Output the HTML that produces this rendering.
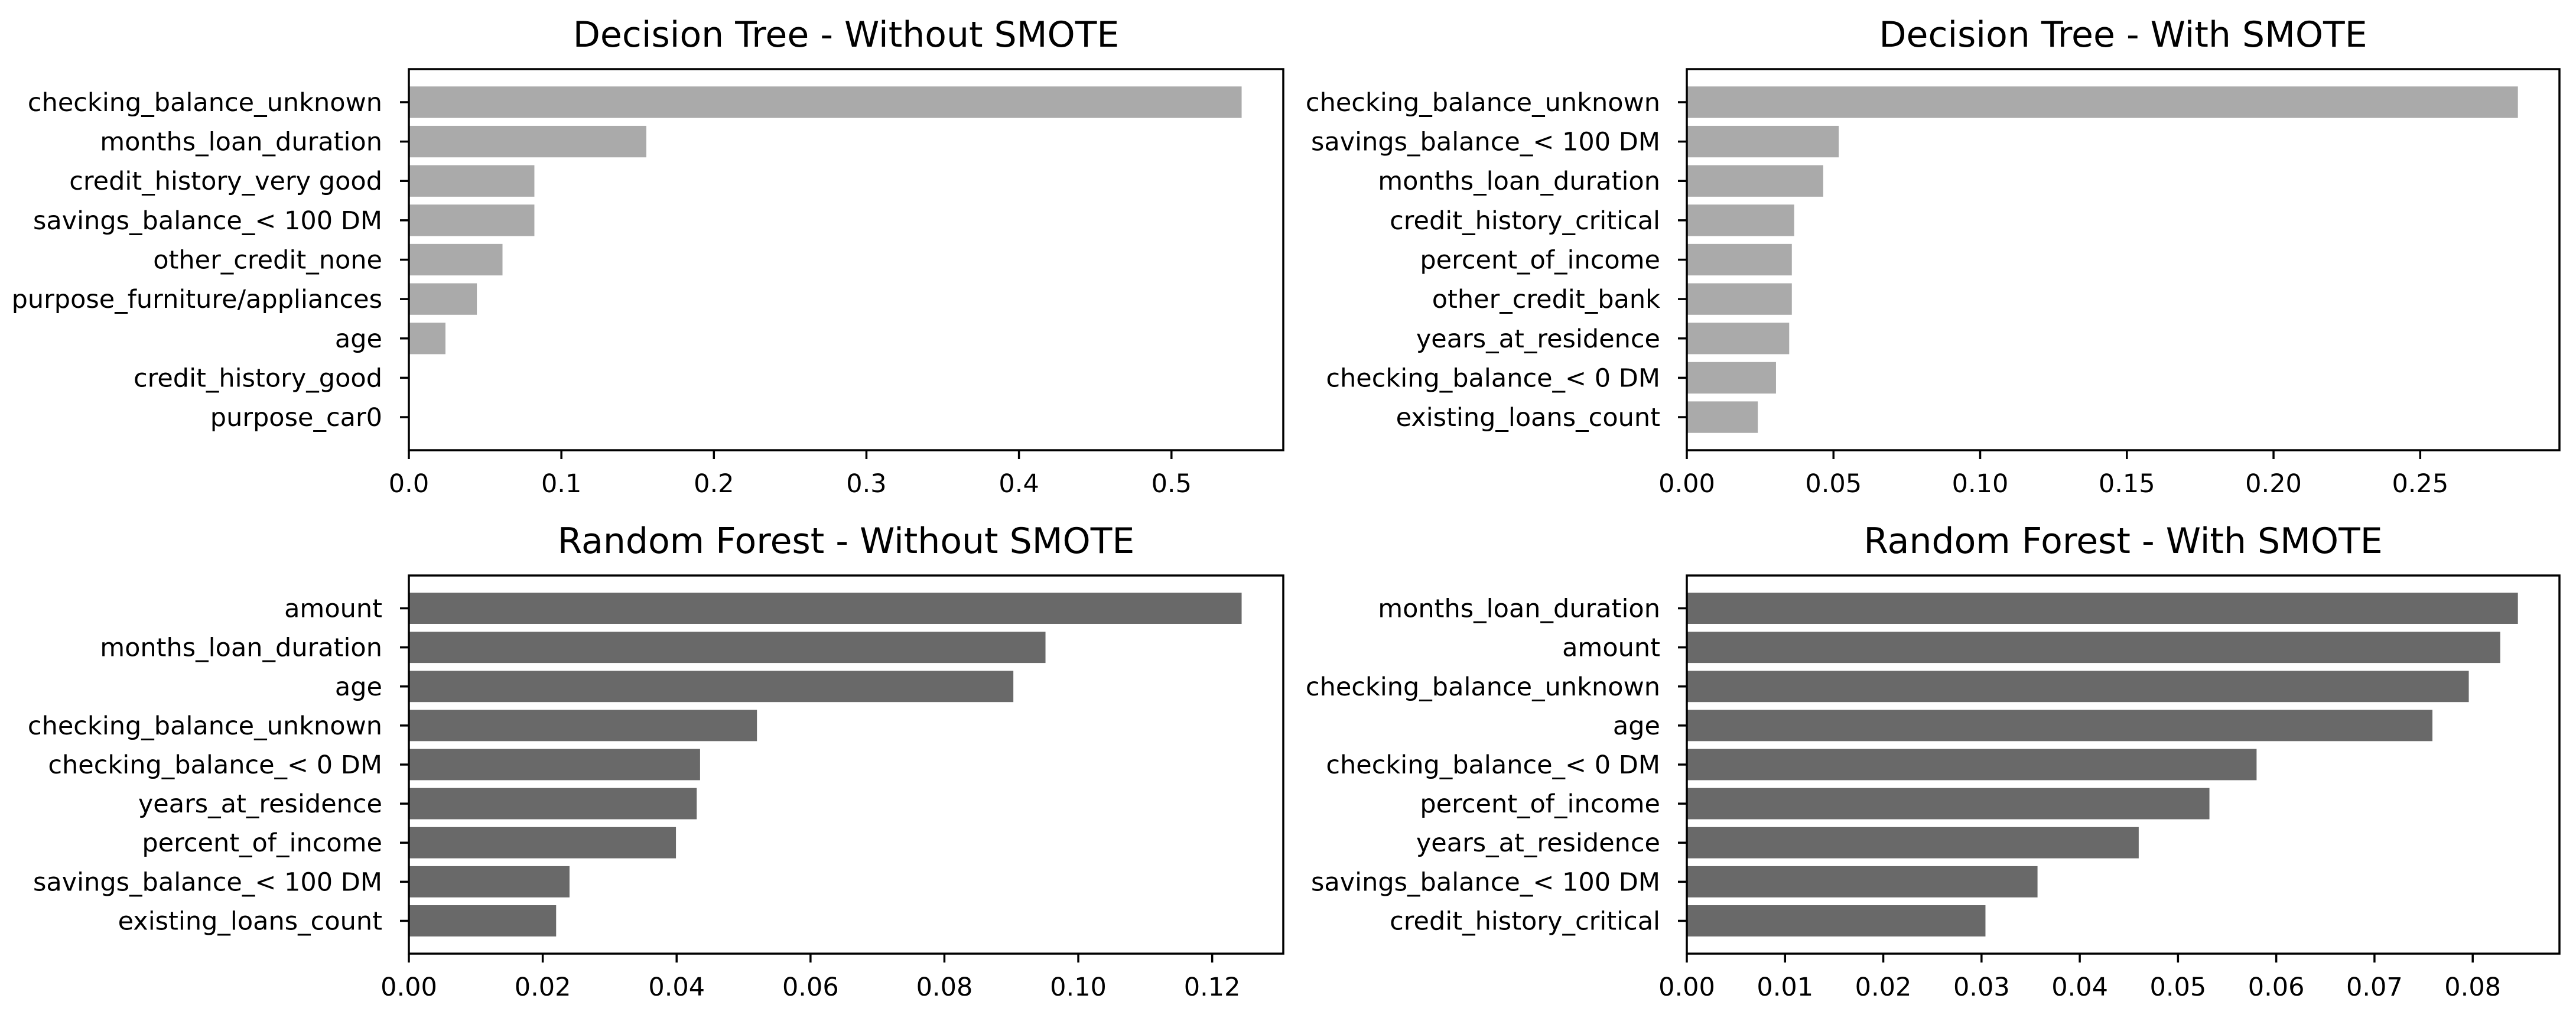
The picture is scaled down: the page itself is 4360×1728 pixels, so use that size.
<!DOCTYPE html>
<html><head><meta charset="utf-8"><style>
html,body{margin:0;padding:0;background:#fff}
svg{display:block}
text{font-family:"DejaVu Sans","Liberation Sans",sans-serif;fill:#000}
</style></head><body>
<svg id="fig" width="4360" height="1728" viewBox="0 0 4360 1728" xmlns="http://www.w3.org/2000/svg"></svg>
<script>
const dtNoLabels = ["checking_balance_unknown","months_loan_duration","credit_history_very good","savings_balance_< 100 DM","other_credit_none","purpose_furniture/appliances","age","credit_history_good","purpose_car0"];
const dtNoValues = [0.546,0.1557,0.0823,0.0823,0.0614,0.0446,0.024,0,0];
const dtNoTicks = [0,0.1,0.2,0.3,0.4,0.5];
const dtNoTickLabels = ["0.0","0.1","0.2","0.3","0.4","0.5"];

const dtSmLabels = ["checking_balance_unknown","savings_balance_< 100 DM","months_loan_duration","credit_history_critical","percent_of_income","other_credit_bank","years_at_residence","checking_balance_< 0 DM","existing_loans_count"];
const dtSmValues = [0.2833,0.0518,0.0465,0.0366,0.0358,0.0358,0.0349,0.0304,0.0242];
const dtSmTicks = [0,0.05,0.10,0.15,0.20,0.25];
const dtSmTickLabels = ["0.00","0.05","0.10","0.15","0.20","0.25"];

const rfNoLabels = ["amount","months_loan_duration","age","checking_balance_unknown","checking_balance_< 0 DM","years_at_residence","percent_of_income","savings_balance_< 100 DM","existing_loans_count"];
const rfNoValues = [0.1244,0.0951,0.0903,0.052,0.0435,0.043,0.0399,0.024,0.022];
const rfNoTicks = [0,0.02,0.04,0.06,0.08,0.10,0.12];
const rfNoTickLabels = ["0.00","0.02","0.04","0.06","0.08","0.10","0.12"];

const rfSmLabels = ["months_loan_duration","amount","checking_balance_unknown","age","checking_balance_< 0 DM","percent_of_income","years_at_residence","savings_balance_< 100 DM","credit_history_critical"];
const rfSmValues = [0.0846,0.0828,0.0796,0.0759,0.058,0.0532,0.046,0.0357,0.0304];
const rfSmTicks = [0,0.01,0.02,0.03,0.04,0.05,0.06,0.07,0.08];
const rfSmTickLabels = ["0.00","0.01","0.02","0.03","0.04","0.05","0.06","0.07","0.08"];

const NS="http://www.w3.org/2000/svg";
const svg=document.getElementById('fig');
function mk(tag,attrs,parent){const e=document.createElementNS(NS,tag);for(const k in attrs)e.setAttribute(k,attrs[k]);(parent||svg).appendChild(e);return e;}

function panel(id,title,labels,values,ticks,tickLabels,color,L,R,T,B){
  const g=mk('g',{});
  
  
  const maxV=Math.max(...values);
  const xmax=maxV*1.05;
  const xs=v=>L+(v/xmax)*(R-L);
  const n=labels.length;
  const lo=-0.4-0.05*(n-1+0.8), hi=n-1+0.4+0.05*(n-1+0.8);
  const unit=(B-T)/(hi-lo);
  const ys=i=>T+(i-lo)*unit;
  const t=mk('text',{x:(L+R)/2,y:T-38,'text-anchor':'middle','font-size':60},g);
  t.textContent=title;
  
  
  values.forEach((v,i)=>{
    const r=mk('rect',{x:xs(0),y:ys(i)-0.4*unit,width:Math.max(0,xs(v)-xs(0)),height:0.8*unit,fill:color},g);
    
    
    mk('line',{x1:L-15,x2:L,y1:ys(i),y2:ys(i),stroke:'#000','stroke-width':3.5},g);
    const lt=mk('text',{x:L-45,y:ys(i)+15,'text-anchor':'end','font-size':43},g);
    lt.textContent=labels[i];
    
    
  });
  ticks.forEach((tv,j)=>{
    const x=xs(tv);
    mk('line',{x1:x,x2:x,y1:B,y2:B+15,stroke:'#000','stroke-width':3.5},g);
    const tt=mk('text',{x:x,y:B+71,'text-anchor':'middle','font-size':43},g);
    tt.textContent=tickLabels[j];
    
    
  });
  const fr=mk('rect',{x:L,y:T,width:R-L,height:B-T,fill:'none',stroke:'#000','stroke-width':3.5},g);
  
  
}
panel('dt-without-smote','Decision Tree - Without SMOTE',dtNoLabels,dtNoValues,dtNoTicks,dtNoTickLabels,'#aaaaaa',692,2172,117,762);
panel('dt-with-smote','Decision Tree - With SMOTE',dtSmLabels,dtSmValues,dtSmTicks,dtSmTickLabels,'#aaaaaa',2855,4332,117,762);
panel('rf-without-smote','Random Forest - Without SMOTE',rfNoLabels,rfNoValues,rfNoTicks,rfNoTickLabels,'#696969',692,2172,974,1614);
panel('rf-with-smote','Random Forest - With SMOTE',rfSmLabels,rfSmValues,rfSmTicks,rfSmTickLabels,'#696969',2855,4332,974,1614);
</script>
</body></html>
